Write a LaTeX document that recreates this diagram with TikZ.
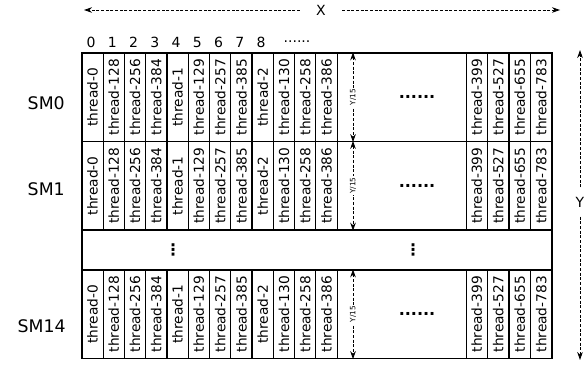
\documentclass[tikz,border=0pt]{standalone}
\usepackage{fontspec}
\setmainfont{DejaVu Sans}
\usetikzlibrary{arrows.meta,positioning,calc}

\begin{document}
\begin{tikzpicture}[x=0.75pt, y=-0.75pt, >={Stealth[length=6pt,width=4.2pt]},
  rowbox/.style={draw, line width=0.9pt, minimum width=352.5pt, minimum height=66.4pt, inner sep=0pt},
  cell/.style={draw, line width=0.7pt, rotate=90, minimum width=66.4pt, minimum height=16pt, inner sep=0pt, font=\fontsize{10.3}{12}\selectfont},
  span/.style={line width=0.65pt, dash pattern=on 2.2pt off 1.3pt},
  num/.style={font=\fontsize{10.5}{12}\selectfont, inner sep=0pt},
  smlab/.style={anchor=east, font=\fontsize{13}{15}\selectfont, inner sep=0pt},
  gapdots/.style={font=\bfseries\fontsize{12}{14}\selectfont, inner sep=0pt}]
\useasboundingbox (0,0) rectangle (584,364);
% one row of threads per SM, rows are 88.5px high
\foreach \r/\y in {0/97.25, 1/185.75, 2/314.25} {
  \node[rowbox] (row\r) at (317,\y) {};
  \foreach \t [count=\i from 0] in {0,128,256,384,1,129,257,385,2,130,258,386}
    \node[cell] (c\r-\i) at ({82+21.25*(\i+0.5)},\y) {thread-\t};
  \foreach \t [count=\i from 0] in {399,527,655,783}
    \node[cell] (d\r-\i) at ({466+21.5*(\i+0.5)},\y) {thread-\t};
  \coordinate (g\r) at (353,\y);
  \draw[span, <->] (row\r.north -| g\r) -- (row\r.south -| g\r)
    node[midway, rotate=90, fill=white, inner sep=1pt, font=\fontsize{5.5}{6}\selectfont] (yq\r) {Y/15};
  \node[gapdots] (dd\r) at (417,\y) {......};
}
\node[smlab] (sm0) at (65,103) {SM0};
\node[smlab] (sm1) at (65,189) {SM1};
\node[smlab] (sm14) at (66,326) {SM14};
% band standing for the SMs left out
\node[draw, line width=0.9pt, minimum width=352.5pt, minimum height=30pt, inner sep=0pt] (band) at (317,250) {};
\node[gapdots] (vd0) at (173,250) {⋮};
\node[gapdots] (vd1) at (413,250) {⋮};
% column index
\foreach \n in {0,...,8}
  \node[num] (n\n) at ({82+21.25*(\n+0.5)-1.5},42) {\n};
\node[num] (nd) at (297,42) {......};
% extent in X and Y
\coordinate (xa) at (84,10);
\coordinate (xb) at (560,10);
\node[num, inner xsep=12pt] (xlab) at (321,10) {X};
\draw[span, ->] (xlab) -- (xa);
\draw[span, ->] (xlab) -- (xb);
\coordinate (ya) at (580,50);
\coordinate (yb) at (580,360);
\node[num, inner ysep=7pt] (ylab) at (580,202) {Y};
\draw[span, ->] (ylab) -- (ya);
\draw[span, ->] (ylab) -- (yb);
\end{tikzpicture}
\end{document}
